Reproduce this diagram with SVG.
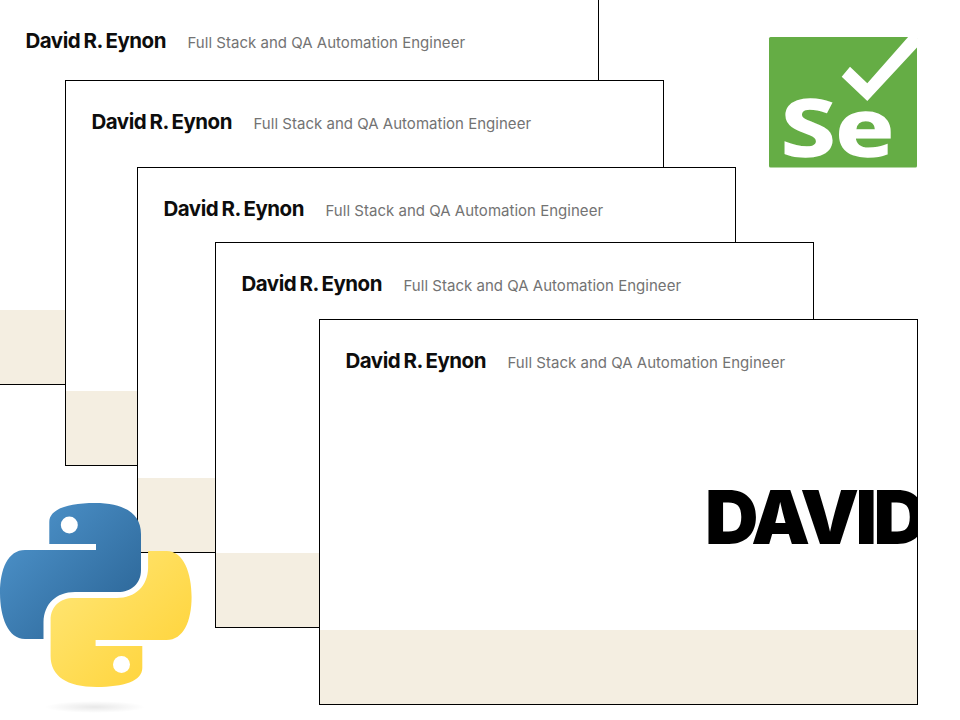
<svg xmlns="http://www.w3.org/2000/svg" width="960" height="720" viewBox="0 0 960 720">
<style>
.card{fill:#fff;stroke:none}
.band{fill:#f4eee1}
.edge{fill:none;stroke:#000;stroke-width:1}
.name{font-family:Inter,"Liberation Sans",sans-serif;font-weight:700;font-size:20.5px;letter-spacing:-.5px;word-spacing:-1px;fill:#0d0d0d}
.role{font-family:Inter,"Liberation Sans",sans-serif;font-weight:400;font-size:15px;letter-spacing:.02px;fill:#737373}
.big{font-family:Inter,"Liberation Sans",sans-serif;font-weight:900;font-size:74px;letter-spacing:-3.500px;fill:#000}
.se{font-family:"Open Sans","Liberation Sans",sans-serif;font-weight:700;fill:#fff;stroke:#fff;stroke-width:1.500}
</style>
<defs>
<linearGradient id="pb" x1="0.05" y1="0.05" x2="0.85" y2="0.8"><stop offset="0" stop-color="#4f95cd"/><stop offset="1" stop-color="#2f6a9c"/></linearGradient>
<linearGradient id="py" x1="0.15" y1="0.2" x2="0.85" y2="0.9"><stop offset="0" stop-color="#ffe46f"/><stop offset="1" stop-color="#ffd43b"/></linearGradient>
<radialGradient id="ps"><stop offset="0" stop-color="#000" stop-opacity=".09"/><stop offset="1" stop-color="#000" stop-opacity="0"/></radialGradient>
<clipPath id="c5"><rect x="319" y="319" width="598" height="385"/></clipPath>
</defs>
<g id="card1">
<rect class="card" x="0" y="-1" width="598.500" height="385.500"/>
<rect class="band" x="0" y="310" width="598" height="74"/>
<rect class="edge" x="-.5" y="-1.500" width="599" height="386"/>
<text class="name" x="25.500" y="47.500">David R. Eynon</text>
<text class="role" x="187.500" y="48">Full Stack and QA Automation Engineer</text>
</g>
<g id="card2">
<rect class="card" x="65.500" y="80.500" width="598" height="385"/>
<rect class="band" x="66" y="391" width="597" height="74"/>
<rect class="edge" x="65.500" y="80.500" width="598" height="385"/>
<text class="name" x="91.500" y="128.500">David R. Eynon</text>
<text class="role" x="253.500" y="129">Full Stack and QA Automation Engineer</text>
</g>
<g id="card3">
<rect class="card" x="137.500" y="167.500" width="598" height="385"/>
<rect class="band" x="138" y="478" width="597" height="74"/>
<rect class="edge" x="137.500" y="167.500" width="598" height="385"/>
<text class="name" x="163.500" y="215.500">David R. Eynon</text>
<text class="role" x="325.500" y="216">Full Stack and QA Automation Engineer</text>
</g>
<g id="card4">
<rect class="card" x="215.500" y="242.500" width="598" height="385"/>
<rect class="band" x="216" y="553" width="597" height="74"/>
<rect class="edge" x="215.500" y="242.500" width="598" height="385"/>
<text class="name" x="241.500" y="290.500">David R. Eynon</text>
<text class="role" x="403.500" y="291">Full Stack and QA Automation Engineer</text>
</g>
<g id="card5">
<rect class="card" x="319.500" y="319.500" width="598" height="385"/>
<rect class="band" x="320" y="630" width="597" height="74"/>
<text class="name" x="345.500" y="367.500">David R. Eynon</text>
<text class="role" x="507.500" y="368">Full Stack and QA Automation Engineer</text>
<g clip-path="url(#c5)"><text class="big" x="705" y="544">DAVID</text></g>
<rect class="edge" x="319.500" y="319.500" width="598" height="385"/>
</g>
<g id="selenium">
<rect x="769" y="37" width="148" height="130.500" rx="1.500" fill="#65ad45"/>
<polygon points="850,66.700 867.300,83.300 908.300,36.700 917,36.700 917,47.500 867.300,101 841.700,76.700" fill="#fff"/>
<text class="se" x="781" y="156" font-size="78" textLength="113" lengthAdjust="spacingAndGlyphs">Se</text>
</g>
<g id="python">
<ellipse cx="95" cy="707" rx="50" ry="6" fill="url(#ps)"/>
<path fill="url(#pb)" d="M49.300 544V522C49.300 509 68 503 95 503C125 503 141 514 141 534V570C141 584 131 592 118 592H75C56 592 44 604 43.500 622V639H25C8 639 0 617 0 593C0 569 8 550 25 550H96V544Z"/>
<circle cx="69.300" cy="525" r="8.500" fill="#fff"/>
<path fill="url(#py)" d="M142.300 646V668C142.300 681 123.600 687 96.600 687C66.600 687 50.600 676 50.600 656V620C50.600 606 60.600 598 73.600 598H116.600C135.600 598 147.600 586 148.100 568V551H166.600C183.600 551 191.600 573 191.600 597C191.600 621 183.600 640 166.600 640H95.600V646Z"/>
<circle cx="121.500" cy="664.500" r="8.500" fill="#fff"/>
</g>
</svg>
